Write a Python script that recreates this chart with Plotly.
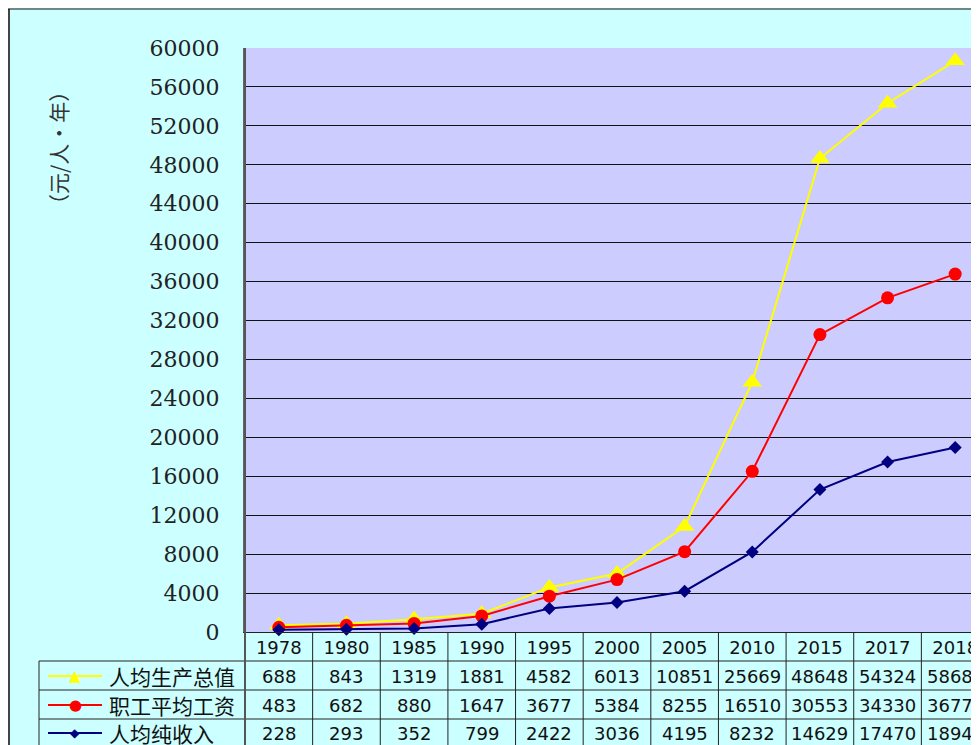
import plotly.graph_objects as go

years = ["1978", "1980", "1985", "1990", "1995", "2000", "2005", "2010", "2015", "2017", "2018"]
gdp_per_capita = [688, 843, 1319, 1881, 4582, 6013, 10851, 25669, 48648, 54324, 58684]
avg_wage = [483, 682, 880, 1647, 3677, 5384, 8255, 16510, 30553, 34330, 36772]
net_income = [228, 293, 352, 799, 2422, 3036, 4195, 8232, 14629, 17470, 18946]
series_names = ["人均生产总值", "职工平均工资", "人均纯收入"]
y_ticks = list(range(0, 60001, 4000))
y_title = "（元/人·年）"

# figure is larger than the window; the page shows its top-left part
W, H = 990, 760
L, R, T, B = 237, 9, 40, 136
PW = W - L - R
PH = H - T - B


def px(x):
    return (x - L) / PW


def py(y):
    return (T + PH - y) / PH


series = [
    (series_names[0], gdp_per_capita, "#FFFF00", "triangle-up", 17, "▲", 15),
    (series_names[1], avg_wage, "#FF0000", "circle", 13, "●", 15),
    (series_names[2], net_income, "#000080", "diamond", 10, "◆", 12),
]

fig = go.Figure()
for name, vals, color, sym, msize, _, _ in series:
    fig.add_trace(go.Scatter(
        x=years, y=vals, name=name, mode="lines+markers",
        line=dict(color=color, width=2),
        marker=dict(symbol=sym, size=msize, color=color, line=dict(width=0)),
        cliponaxis=False, showlegend=False,
    ))

shapes = []
annotations = []

# outer frame
shapes.append(dict(type="line", xref="paper", yref="paper", x0=px(1), x1=px(1), y0=py(H), y1=py(1),
                   line=dict(color="#444", width=2)))
shapes.append(dict(type="line", xref="paper", yref="paper", x0=px(0), x1=px(W), y0=py(1), y1=py(1),
                   line=dict(color="#111", width=1)))

# table grid
row_lines = [653, 682, 711, 740]
row_centers = [668, 697, 725]
for yl in row_lines:
    shapes.append(dict(type="line", xref="paper", yref="paper", x0=px(31), x1=1, y0=py(yl), y1=py(yl),
                       line=dict(color="#222", width=1)))
shapes.append(dict(type="line", xref="paper", yref="paper", x0=px(31), x1=px(31), y0=py(740), y1=py(653),
                   line=dict(color="#222", width=1)))
shapes.append(dict(type="line", xref="paper", yref="paper", x0=0, x1=0, y0=py(740), y1=1,
                   line=dict(color="#555", width=2)))
for i in range(1, len(years) + 1):
    shapes.append(dict(type="line", xref="x", yref="paper", x0=i - 0.5, x1=i - 0.5, y0=py(740), y1=0,
                       line=dict(color="#222", width=1)))

# table values and legend keys
for (name, vals, color, sym, msize, glyph, gsize), yc in zip(series, row_centers):
    for i, v in enumerate(vals):
        annotations.append(dict(xref="x", yref="paper", x=i, y=py(yc), text=str(v), showarrow=False,
                                xanchor="center", yanchor="middle",
                                font=dict(family="DejaVu Sans", size=18, color="#111")))
    shapes.append(dict(type="line", xref="paper", yref="paper", x0=px(40), x1=px(94), y0=py(yc), y1=py(yc),
                       line=dict(color=color, width=2)))
    annotations.append(dict(xref="paper", yref="paper", x=px(67), y=py(yc), text=glyph, showarrow=False,
                            xanchor="center", yanchor="middle",
                            font=dict(family="DejaVu Sans", size=gsize, color=color)))
    annotations.append(dict(xref="paper", yref="paper", x=px(99), y=py(yc), text=name, showarrow=False,
                            xanchor="left", yanchor="middle",
                            font=dict(family="Noto Sans CJK SC", size=21, color="#111")))

# y-axis title
annotations.append(dict(xref="paper", yref="paper", x=px(50), y=py(140), text=y_title, showarrow=False,
                        textangle=-90, xanchor="center", yanchor="middle",
                        font=dict(family="Noto Sans CJK SC", size=21, color="#333")))

fig.update_layout(
    width=W, height=H,
    margin=dict(l=L, r=R, t=T, b=B, pad=0),
    paper_bgcolor="#CCFFFF",
    plot_bgcolor="#CCCCFF",
    shapes=shapes,
    annotations=annotations,
    xaxis=dict(
        type="category", range=[-0.5, len(years) - 0.5],
        tickmode="array", tickvals=years, ticktext=years,
        ticks="", showgrid=False, zeroline=False,
        showline=True, linecolor="#222", linewidth=1,
        tickfont=dict(family="DejaVu Sans", size=18, color="#111"),
        ticklabelstandoff=-1,
    ),
    yaxis=dict(
        range=[0, 60000], tickmode="array", tickvals=y_ticks,
        ticktext=[str(v) for v in y_ticks],
        ticks="", showgrid=True, gridcolor="#111", gridwidth=1,
        zeroline=False, showline=True, linecolor="#666", linewidth=2,
        tickfont=dict(family="DejaVu Serif", size=22, color="#222"),
        ticklabelstandoff=19,
    ),
)

fig.write_html("out.html")
